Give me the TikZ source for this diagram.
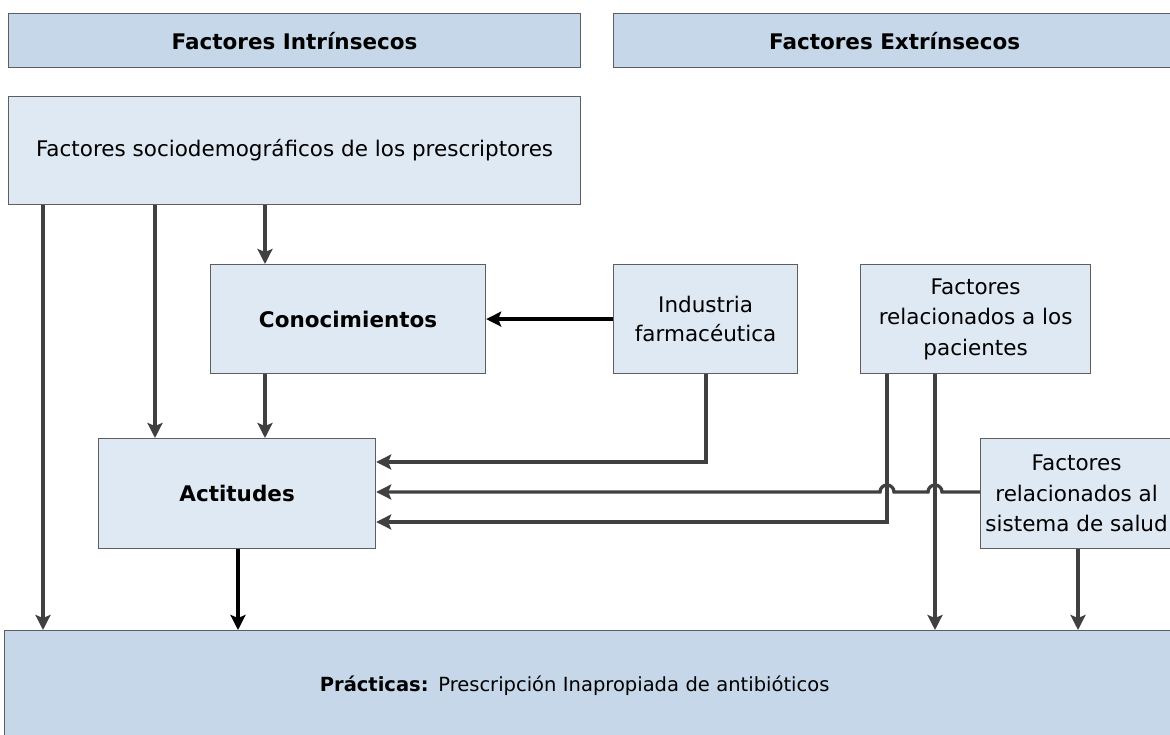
\documentclass[tikz,border=0pt]{standalone}
\usepackage{fontspec}
\setmainfont{DejaVu Sans}
\usetikzlibrary{arrows.meta}
\definecolor{hdr}{HTML}{C5D7E8}
\definecolor{lt}{HTML}{DFE9F3}
\definecolor{bord}{HTML}{5E5E5E}
\definecolor{ln}{HTML}{404040}
\begin{document}
\begin{tikzpicture}[x=1pt,y=-1pt,
  box/.style={draw=bord,line width=1.2pt,fill=lt,anchor=north west,inner sep=0pt,align=center,font=\fontsize{21.5}{29}\selectfont},
  hbox/.style={box,fill=hdr},
  conn/.style={draw=ln,line width=3.3pt,-{Stealth[length=15pt,width=15pt,inset=3pt]}},
  bconn/.style={draw=black,line width=3.3pt,-{Stealth[length=15pt,width=15pt,inset=3pt]}}]
\useasboundingbox (0,0) rectangle (1170,735);
\node[hbox,minimum width=572pt,minimum height=54pt] (h1) at (8,13) {\textbf{Factores Intrínsecos}};
\node[hbox,minimum width=562pt,minimum height=54pt] (h2) at (613,13) {\textbf{Factores Extrínsecos}};
\node[box,minimum width=572pt,minimum height=108pt] (soc) at (8,96) {Factores sociodemográficos de los prescriptores};
\node[box,minimum width=275pt,minimum height=109pt] (con) at (210,264) {\textbf{Conocimientos}};
\node[box,minimum width=184pt,minimum height=109pt] (ind) at (613,264) {Industria\\farmacéutica};
\node[box,minimum width=230pt,minimum height=109pt,font=\fontsize{21.5}{30.5}\selectfont] (pac) at (860,264) {Factores\\relacionados a los\\pacientes};
\node[box,minimum width=277pt,minimum height=110pt] (act) at (98,438) {\textbf{Actitudes}};
\node[box,minimum width=192pt,minimum height=110pt,font=\fontsize{21.5}{30.5}\selectfont] (sal) at (980,438) {Factores\\relacionados al\\sistema de salud};
\node[hbox,minimum width=1180pt,minimum height=110pt,text width=1140pt,font=\fontsize{19.5}{24}\selectfont] (pra) at (4,630) {\hspace*{-40pt}\textbf{Prácticas:} Prescripción Inapropiada de antibióticos};
% connectors
\draw[conn] (soc.south west -| 43,0) -- (pra.north west -| 43,0);
\draw[conn] (soc.south -| 155,0) -- (act.north -| 155,0);
\draw[conn] (soc.south -| 265,0) -- (con.north -| 265,0);
\draw[conn] (con.south -| 265,0) -- (act.north -| 265,0);
\draw[bconn] (act.south -| 238,0) -- (pra.north -| 238,0);
\draw[bconn] (ind.west) -- (con.east);
\draw[conn] (ind.south -| 706,0) -- (706,462) -- (act.east |- 0,462);
\draw[conn] (pac.south -| 887,0) -- (887,522) -- (act.east |- 0,522);
\draw[conn] (pac.south -| 935,0) -- (pra.north -| 935,0);
\draw[conn] (sal.south -| 1078,0) -- (pra.north -| 1078,0);
\coordinate (j1) at (887,492);
\coordinate (j2) at (935,492);
\draw[conn] (sal.west |- j2) -- ([xshift=7pt]j2) arc[start angle=0,end angle=180,radius=7pt]
  -- ([xshift=7pt]j1) arc[start angle=0,end angle=180,radius=7pt] -- (act.east |- j1);
\end{tikzpicture}
\end{document}
